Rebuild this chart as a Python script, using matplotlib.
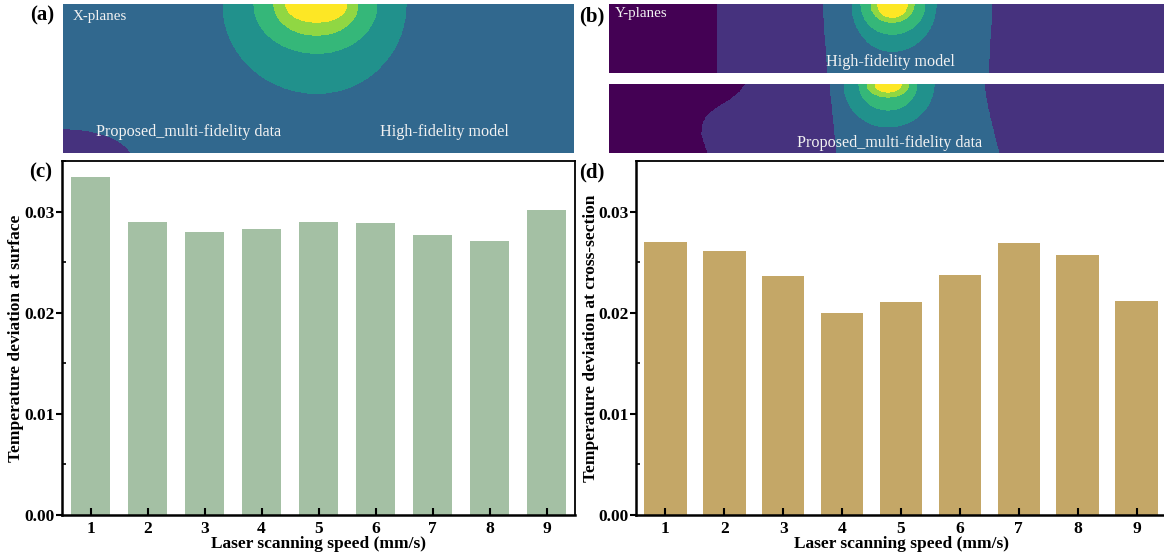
import numpy as np
import matplotlib
matplotlib.use("Agg")
import matplotlib.pyplot as plt
from matplotlib.colors import ListedColormap
from matplotlib.ticker import MultipleLocator, FormatStrFormatter

# ---------------- data ----------------
speeds = [1, 2, 3, 4, 5, 6, 7, 8, 9]
surface_dev = [0.0334, 0.0290, 0.0280, 0.0283, 0.0290, 0.0289, 0.0277, 0.0271, 0.0302]
section_dev = [0.0270, 0.0261, 0.0236, 0.0200, 0.0211, 0.0237, 0.0269, 0.0257, 0.0212]

# melt-pool band boundaries (half-width left, half-width right, depth), hottest first
x_plane_bands = [(31, 30, 18), (43, 41, 31), (63, 60, 49), (94, 89, 89)]
y_hf_bands = [(14, 15, 13), (21, 22, 18), (31, 33, 30), (40, 44, 47)]
y_mf_bands = [(13, 13, 8), (21, 21, 13), (29, 29, 26), (44, 46, 43)]

band_colors = ["#440154", "#46327e", "#31688e", "#21918c", "#35b779", "#90d743", "#fde725"]
cmap = ListedColormap(band_colors)
levels = np.arange(-0.5, 7.0, 1.0)

FONT = "Liberation Serif"
plt.rcParams["font.family"] = [FONT, "DejaVu Serif"]

W, H = 1164, 557
fig = plt.figure(figsize=(W / 100, H / 100), dpi=100)


def fig_rect(x0, y0, x1, y1):
    """Axes rectangle from pixel box (top-left origin)."""
    return [x0 / W, 1 - y1 / H, (x1 - x0) / W, (y1 - y0) / H]


def hotspot(X, Y, cx, bands):
    """Number of nested melt-pool bands covering each point."""
    n = np.zeros_like(X)
    for aL, aR, b in bands:
        a = np.where(X < cx, aL, aR)
        inside = ((X - cx) / a) ** 2 + (Y / b) ** 2 < 1
        n = n + inside
    return n


def plane_axes(rect, w, h):
    ax = fig.add_axes(rect)
    xs = np.linspace(0, w, 1400)
    ys = np.linspace(0, h, 400)
    X, Y = np.meshgrid(xs, ys)
    ax.set_xlim(0, w)
    ax.set_ylim(h, 0)
    ax.axis("off")
    return ax, X, Y


txt_kw = dict(color="#f2f2f2", fontsize=11.6, family=FONT, ha="center", va="center")

# ---------------- (a) X-planes ----------------
wa, ha_ = 511, 148.4
ax_a, X, Y = plane_axes(fig_rect(63, 4.3, 574, 152.7), wa, ha_)
field = 2 + hotspot(X, Y, 254, x_plane_bands)
corner = (X / 70) ** 2 + ((Y - ha_ - 8) / 32) ** 2 < 1
field = np.where(corner, 1, field)
ax_a.contourf(X, Y, field, levels=levels, cmap=cmap, vmin=-0.5, vmax=6.5)
ax_a.text(10, 12, "X-planes", color="#f2f2f2", fontsize=10.8, family=FONT, ha="left", va="center")
ax_a.text(126, 127.5, "Proposed_multi-fidelity data", **txt_kw)
ax_a.text(381, 127.5, "High-fidelity model", **txt_kw)

# ---------------- (b) Y-planes, high-fidelity ----------------
wb, hb = 557, 68.7
ax_b1, X, Y = plane_axes(fig_rect(609, 4.3, 1166, 73), wb, hb)
f = np.ones_like(X)
f = np.where(X < 108, 0, f)
blue_l = 214 + 5 * Y / hb
blue_r = 383 - 4 * Y / hb
f = np.where((X > blue_l) & (X < blue_r), 2, f)
f = np.where(f == 2, 2 + hotspot(X, Y, 283, y_hf_bands), f)
ax_b1.contourf(X, Y, f, levels=levels, cmap=cmap, vmin=-0.5, vmax=6.5)
ax_b1.text(6, 9, "Y-planes", color="#f2f2f2", fontsize=10.8, family=FONT, ha="left", va="center")
ax_b1.text(281, 57.5, "High-fidelity model", **txt_kw)

# ---------------- (b) Y-planes, multi-fidelity ----------------
ax_b2, X, Y = plane_axes(fig_rect(609, 84, 1166, 153), wb, 69)
f = np.ones_like(X)
edge_y = [0, 8, 16, 24, 32, 40, 50, 60, 69]
edge_x = [137, 131, 121, 108, 98, 94, 93, 96, 99]
f = np.where(X < np.interp(Y, edge_y, edge_x), 0, f)
blue_l = 221 + 7 * Y / 69
blue_r = 375 + 15 * (Y / 69) ** 1.3
f = np.where((X > blue_l) & (X < blue_r), 2, f)
f = np.where(f == 2, 2 + hotspot(X, Y, 279, y_mf_bands), f)
ax_b2.contourf(X, Y, f, levels=levels, cmap=cmap, vmin=-0.5, vmax=6.5)
ax_b2.text(281, 59, "Proposed_multi-fidelity data", **txt_kw)

# ---------------- bar panels ----------------
bold = dict(family=FONT, fontweight="bold")


def bar_panel(rect, values, color, width, ylabel, ylab_x, right_spine=True):
    ax = fig.add_axes(rect)
    ax.bar(speeds, values, width=width, color=color, edgecolor="none")
    ax.set_xlim(0.5, 9.5)
    ax.set_ylim(0, 0.035)
    ax.set_xticks(speeds)
    ax.yaxis.set_major_locator(MultipleLocator(0.01))
    ax.yaxis.set_minor_locator(MultipleLocator(0.005))
    ax.yaxis.set_major_formatter(FormatStrFormatter("%.2f"))
    ax.tick_params(axis="x", direction="in", length=5, width=1.5, pad=4, labelsize=12.5)
    ax.tick_params(axis="y", which="major", direction="out", length=4, width=1.5, pad=1, labelsize=12.5)
    ax.tick_params(axis="y", which="minor", direction="in", length=3, width=1.2)
    for lab in ax.get_xticklabels() + ax.get_yticklabels():
        lab.set_fontweight("bold")
        lab.set_family(FONT)
    for side in ["left", "bottom"]:
        ax.spines[side].set_linewidth(1.8)
    for side in ["top", "right"]:
        ax.spines[side].set_linewidth(1.3)
    ax.spines["right"].set_visible(right_spine)
    ax.set_xlabel("Laser scanning speed (mm/s)", fontsize=12.5, **bold)
    ax.xaxis.set_label_coords(0.5, -0.06)
    ax.set_ylabel(ylabel, fontsize=12.5, **bold)
    ax.yaxis.set_label_coords(ylab_x, 0.5)
    return ax


bar_panel(fig_rect(62, 161, 575, 515), surface_dev, "#a4c0a4", 0.70,
          "Temperature deviation at surface", -0.074)
# the right panel's frame runs off the figure edge
bar_panel(fig_rect(636, 161, 1166, 515), section_dev, "#c4a767", 0.72,
          "Temperature deviation at cross-section", -0.070, right_spine=False)

# ---------------- panel letters ----------------
for label, x, y in [("(a)", 42, 15), ("(b)", 592, 16), ("(c)", 41, 172), ("(d)", 592, 172)]:
    fig.text(x / W, 1 - y / H, label, fontsize=15, ha="center", va="center", **bold)

fig.savefig("out.png", dpi=100)
